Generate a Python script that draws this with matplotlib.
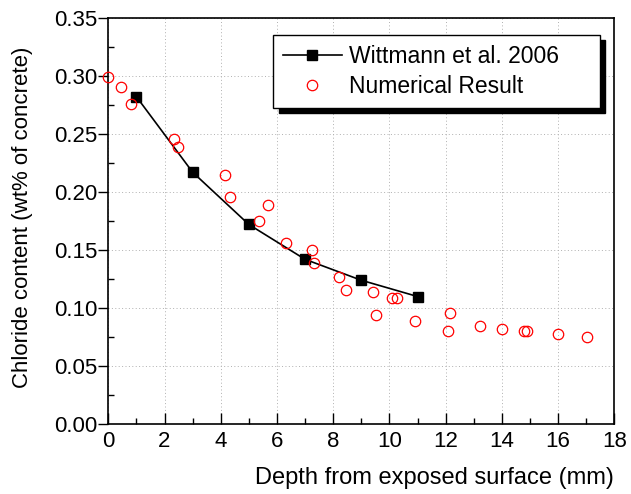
import matplotlib
matplotlib.use("Agg")
import matplotlib.pyplot as plt
from matplotlib.ticker import MultipleLocator, FormatStrFormatter

plt.rcParams['font.family'] = ['Liberation Sans', 'DejaVu Sans']

# Wittmann et al. 2006 (measured)
exp_depth = [1, 3, 5, 7, 9, 11]
exp_cl = [0.282, 0.217, 0.172, 0.142, 0.124, 0.110]

# numerical result
num_depth = [0.0, 0.45, 0.82, 2.34, 2.47, 4.16, 4.32, 5.36, 5.68, 6.32, 7.24, 7.33,
             8.22, 8.45, 9.42, 9.53, 10.08, 10.28, 10.92, 12.08, 12.16, 13.22,
             14.0, 14.79, 14.88, 16.0, 17.02]
num_cl = [0.299, 0.290, 0.276, 0.246, 0.239, 0.215, 0.196, 0.175, 0.189, 0.156, 0.150, 0.139,
          0.127, 0.116, 0.114, 0.094, 0.109, 0.109, 0.089, 0.080, 0.096, 0.085,
          0.082, 0.080, 0.080, 0.078, 0.075]

fig = plt.figure(figsize=(6.31, 4.94), dpi=100)
ax = fig.add_axes([0.1716, 0.1411, 0.8019, 0.8231])

ax.plot(exp_depth, exp_cl, color='black', lw=1.2, marker='s', ms=7,
        mfc='black', mec='black', label='Wittmann et al. 2006', zorder=3)
ax.plot(num_depth, num_cl, ls='none', marker='o', ms=7.5, mfc='none',
        mec='red', mew=0.9, label='Numerical Result', zorder=4, clip_on=False)

ax.set_xlim(0, 18)
ax.set_ylim(0, 0.35)
ax.xaxis.set_major_locator(MultipleLocator(2))
ax.xaxis.set_minor_locator(MultipleLocator(1))
ax.yaxis.set_major_locator(MultipleLocator(0.05))
ax.yaxis.set_minor_locator(MultipleLocator(0.025))
ax.yaxis.set_major_formatter(FormatStrFormatter('%.2f'))

ax.tick_params(axis='x', which='major', direction='in', length=8, width=1, labelsize=16, pad=5)
ax.tick_params(axis='x', which='minor', direction='in', length=4, width=1)
ax.tick_params(axis='y', which='major', direction='out', length=7, width=1, labelsize=16, pad=1)
ax.tick_params(axis='y', which='minor', direction='in', length=4, width=1)
for s in ax.spines.values():
    s.set_linewidth(1.2)

ax.grid(True, which='major', ls=(0, (1, 2.5)), lw=0.7, color='#b0b0b0')
ax.set_axisbelow(True)

ax.set_xlabel('Depth from exposed surface (mm)', fontsize=17, loc='right')
ax.xaxis.set_label_coords(1.0, -0.105)
ax.set_ylabel('Chloride content (wt% of concrete)', fontsize=16)
ax.yaxis.set_label_coords(-0.149, 0.51)

leg = ax.legend(loc='upper left', bbox_to_anchor=(0.3255, 0.785, 0.6455, 0.172),
                mode='expand', borderaxespad=0,
                fontsize=16.5, frameon=True, fancybox=False, edgecolor='black',
                framealpha=1, handlelength=2.6, handletextpad=0.3, borderpad=0.42,
                labelspacing=0.33,
                shadow={'ox': 4, 'oy': -3.8, 'color': 'black', 'alpha': 1})
leg.get_frame().set_linewidth(1.0)

fig.savefig('out.png', dpi=100)
